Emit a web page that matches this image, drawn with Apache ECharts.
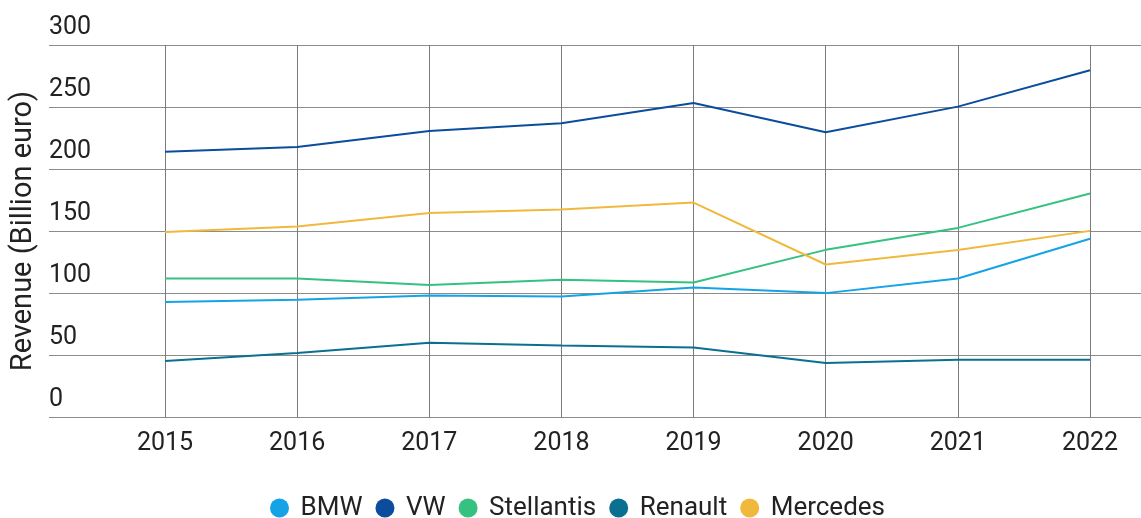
<!DOCTYPE html>
<html lang="en">
<head>
    <meta charset="UTF-8">
    <title>Revenue</title>
    <script src="https://cdn.jsdelivr.net/npm/echarts@6/dist/echarts.min.js"></script>
    <style type="text/css">
        html, body { margin: 0; padding: 0; background: #fff; }
        #chart { width: 1141px; height: 518px; }
    </style>
</head>
<body>
<div id="chart"></div>
<script type="text/javascript">
    // data (billion euro)
    var years = ['2015', '2016', '2017', '2018', '2019', '2020', '2021', '2022'];
    var bmw = [92.7, 94.5, 98.0, 97.2, 104.4, 99.9, 111.7, 143.7];
    var vw = [214.0, 217.8, 230.7, 236.9, 253.3, 229.7, 250.3, 279.6];
    var stellantis = [111.7, 111.7, 106.4, 110.6, 108.5, 134.8, 152.5, 180.2];
    var renault = [45.1, 51.6, 59.9, 57.7, 56.1, 43.5, 46.2, 46.2];
    var mercedes = [149.1, 153.6, 164.6, 167.3, 172.9, 123.0, 134.6, 150.1];
    var yTicks = [0, 50, 100, 150, 200, 250, 300];

    var FONT = 'Roboto';
    var names = ['BMW', 'VW', 'Stellantis', 'Renault', 'Mercedes'];
    var colors = ['#14a3e6', '#0b4c9c', '#35c27e', '#0b6f91', '#f1b93c'];
    var values = [bmw, vw, stellantis, renault, mercedes];

    var series = [];
    for (var i = 0; i < names.length; i++) {
        series.push({
            name: names[i],
            type: 'line',
            xAxisIndex: 1,
            yAxisIndex: 1,
            data: values[i],
            symbol: 'none',
            lineStyle: {width: 2, color: colors[i]},
            itemStyle: {color: colors[i]}
        });
    }

    var myChart = echarts.init(document.getElementById('chart'));
    var option = {
        animation: false,
        color: colors,
        textStyle: {fontFamily: FONT},
        grid: [
            // wide grid: horizontal lines + y labels
            {left: 49, right: 0, top: 45, bottom: 101, outerBoundsMode: 'none', containLabel: false},
            // data grid: year columns
            {left: 165, right: 51, top: 45, bottom: 101, outerBoundsMode: 'none', containLabel: false}
        ],
        xAxis: [
            {
                gridIndex: 0, type: 'value', min: 0, max: 1,
                axisLine: {show: false}, axisTick: {show: false},
                axisLabel: {show: false}, splitLine: {show: false}
            },
            {
                gridIndex: 1, type: 'category', data: years, boundaryGap: false,
                axisLine: {show: false}, axisTick: {show: false},
                axisLabel: {color: '#222', fontSize: 25, fontFamily: FONT, margin: 14},
                splitLine: {show: true, lineStyle: {color: '#7a7a7a', width: 1}}
            }
        ],
        yAxis: [
            {
                gridIndex: 0, type: 'value', min: yTicks[0], max: yTicks[yTicks.length - 1], interval: 50,
                name: 'Revenue (Billion euro)',
                nameLocation: 'middle',
                nameGap: 10,
                nameTextStyle: {color: '#222', fontSize: 29, fontFamily: FONT},
                axisLine: {show: false}, axisTick: {show: false},
                axisLabel: {
                    inside: true, margin: 0, color: '#222', fontSize: 25, fontFamily: FONT,
                    verticalAlign: 'bottom', padding: [0, 0, 5, 0],
                    showMaxLabel: true, showMinLabel: true
                },
                splitLine: {show: true, lineStyle: {color: '#8c8c8c', width: 1}}
            },
            {
                gridIndex: 1, type: 'value', min: yTicks[0], max: yTicks[yTicks.length - 1],
                show: false, splitLine: {show: false}
            }
        ],
        legend: {
            data: names,
            left: 270,
            top: 495,
            padding: 0,
            icon: 'circle',
            itemWidth: 20,
            itemHeight: 19,
            itemGap: 13,
            textStyle: {color: '#222', fontSize: 26, fontFamily: FONT, padding: [0, 0, 0, 6]}
        },
        series: series
    };
    myChart.setOption(option);
</script>
</body>
</html>
